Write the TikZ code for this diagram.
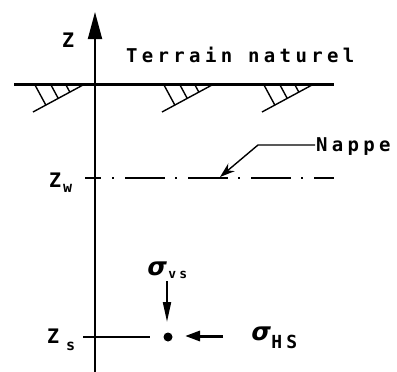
\documentclass[tikz,border=0pt]{standalone}
\usepackage{fontspec}
\setmainfont{DejaVu Sans Mono}
\newfontfamily\labfont[LetterSpace=23]{DejaVu Sans Mono}
\newfontfamily\grfont[FakeSlant=0.2]{DejaVu Sans}
\usetikzlibrary{arrows.meta,calc}
\begin{document}
\begin{tikzpicture}[x=1pt,y=-1pt,
  txt/.style={inner sep=0pt,outer sep=0pt,anchor=base west},
  hatch/.style={line width=1.4pt},
  big/.style={font=\labfont\bfseries\fontsize{19}{19}\selectfont},
  zfont/.style={font=\bfseries\fontsize{20}{20}\selectfont}]
\useasboundingbox (0,0) rectangle (397,372);
% axis
\coordinate (ab) at (95,372);
\coordinate (at) at (95,12);
\draw[line width=1.8pt,-{Triangle[length=27pt,width=14pt]}] (ab) -- (at);
\node[txt,zfont] (zlab) at (62,47) {Z};
% ground
\coordinate (gl) at (14,84);
\coordinate (gr) at (334,84);
\draw[line width=3pt] (gl) -- (gr);
\node[txt,big] (terrain) at (126,63) {Terrain naturel};
\foreach \x in {33,162,262} {
  \coordinate (hA) at (\x,112);
  \coordinate (hB) at (\x+50,85);
  \draw[hatch] (hA) -- (hB);
  \foreach \t in {2,18,33} {
    \coordinate (hP) at (\x+\t,85);
    \draw[hatch] (hP) -- ($(hA)!(hP)!(hB)$);
  }
}
% water table
\coordinate (wl) at (85,178);
\coordinate (wa) at (101,178);
\draw[line width=1.4pt] (wl) -- (wa);
\coordinate (n0) at (112,178);
\coordinate (n1) at (334,178);
\draw[line width=1.8pt,dash pattern=on 2pt off 11pt on 40pt off 10pt] (n0) -- (n1);
\node[txt,zfont] (zw) at (49,187) {Z\hspace{2pt}\raisebox{-5pt}{\fontsize{15}{15}\selectfont w}};
\node[txt,big] (nappe) at (316,151) {Nappe};
\coordinate (ls) at (315,145);
\coordinate (lk) at (258,145);
\coordinate (lt) at (220,177);
\draw[line width=1.4pt,-{Stealth[length=15pt,width=10pt]}] (ls) -- (lk) -- (lt);
% point
\coordinate (sl) at (83,337);
\coordinate (sr) at (150,337);
\draw[line width=1.2pt] (sl) -- (sr);
\node[txt,zfont] (zs) at (47,343) {Z\hspace{7pt}\raisebox{-7pt}{\fontsize{15}{15}\selectfont s}};
\node[circle,fill,inner sep=0pt,minimum size=9pt] (pt) at (168,337) {};
\coordinate (va) at (167,281);
\coordinate (vb) at (167,322);
\draw[line width=2pt,-{Triangle[length=20pt,width=8pt]}] (va) -- (vb);
\coordinate (ha) at (223,336);
\coordinate (hb) at (185,336);
\draw[line width=3pt,-{Triangle[length=15pt,width=10pt]}] (ha) -- (hb);
\node[txt] (svs) at (146,275) {{\grfont\bfseries\fontsize{25}{25}\selectfont σ}\hspace{3pt}\raisebox{-3pt}{\labfont\bfseries\fontsize{13}{13}\selectfont vs}};
\node[txt] (shs) at (250,340) {{\grfont\bfseries\fontsize{25}{25}\selectfont σ}\hspace{2pt}\raisebox{-8pt}{\labfont\bfseries\fontsize{18}{18}\selectfont HS}};
\end{tikzpicture}
\end{document}
